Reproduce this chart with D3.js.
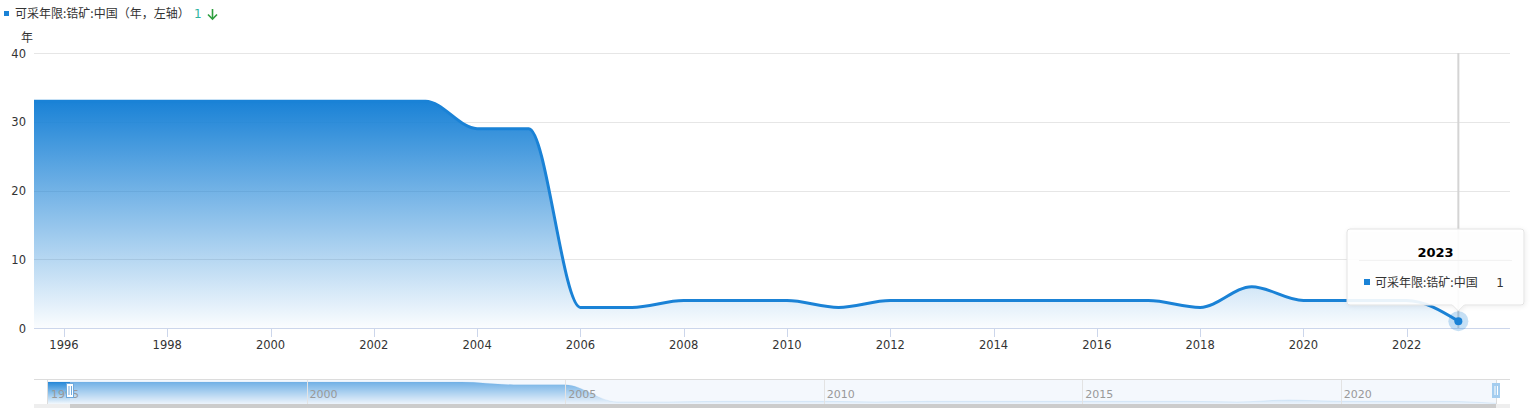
<!DOCTYPE html>
<html><head><meta charset="utf-8">
<script src="https://cdn.jsdelivr.net/npm/d3@7/dist/d3.min.js"></script>
<style>
html,body{margin:0;padding:0;background:#fff;}
svg{display:block;}
text{font-family:"DejaVu Sans","Noto Sans CJK SC",sans-serif;}
.cjk{font-family:"Noto Sans CJK SC","DejaVu Sans",sans-serif;}
</style></head>
<body>
<svg id="c" width="1530" height="408"></svg>
<script>
const years = [1995,1996,1997,1998,1999,2000,2001,2002,2003,2004,2005,2006,2007,2008,2009,2010,2011,2012,2013,2014,2015,2016,2017,2018,2019,2020,2021,2022,2023];
const values = [33,33,33,33,33,33,33,33,33,29,29,3,3,4,4,4,3,4,4,4,4,4,4,3,6,4,4,4,1];
const yTicks = [0,10,20,30,40];
const xTicks = [1996,1998,2000,2002,2004,2006,2008,2010,2012,2014,2016,2018,2020,2022];
const navTicks = [1995,2000,2005,2010,2015,2020];
const seriesName = "可采年限:锆矿:中国";
const legendLabel = "可采年限:锆矿:中国（年，左轴）";
const latestValue = "1";
const yUnit = "年";
const tipYear = 2023;

const data = years.map((y,i)=>({x:y,v:values[i]}));
const color = "#1a82d6";
const svg = d3.select("#c");
const defs = svg.append("defs");

const L=34, R=1510, T=53, B=328;
const x = d3.scaleLinear().domain([1995.42, 2024]).range([L,R]);
const y = d3.scaleLinear().domain([0,40]).range([B,T]);

const g1 = defs.append("linearGradient").attr("id","ag").attr("x1",0).attr("y1",0).attr("x2",0).attr("y2",1);
g1.append("stop").attr("offset",0).attr("stop-color",color).attr("stop-opacity",1);
g1.append("stop").attr("offset",1).attr("stop-color",color).attr("stop-opacity",0.02);
defs.append("clipPath").attr("id","clip").append("rect").attr("x",L).attr("y",0).attr("width",R-L).attr("height",B+5);

// gridlines
svg.append("g").selectAll("line").data(yTicks.filter(d=>d>0)).join("line")
  .attr("x1",L).attr("x2",R).attr("y1",d=>Math.round(y(d))+0.5).attr("y2",d=>Math.round(y(d))+0.5)
  .attr("stroke","#e6e6e6");
// y labels
svg.append("g").selectAll("text").data(yTicks).join("text")
  .attr("x",26).attr("y",d=>y(d)+4.5).attr("text-anchor","end")
  .attr("font-size","11.5px").attr("fill","#333").text(d=>d);
svg.append("text").attr("class","cjk").attr("x",27).attr("y",42).attr("text-anchor","middle")
  .attr("font-size","12px").attr("fill","#333").text(yUnit);

const curve = d3.curveMonotoneX;
const area = d3.area().x(d=>x(d.x)).y0(B).y1(d=>y(d.v)).curve(curve);
const line = d3.line().x(d=>x(d.x)).y(d=>y(d.v)).curve(curve);
const pg = svg.append("g").attr("clip-path","url(#clip)");
pg.append("path").datum(data).attr("d",area).attr("fill","url(#ag)");
pg.append("path").datum(data).attr("d",line).attr("fill","none").attr("stroke",color).attr("stroke-width",3).attr("stroke-linejoin","round");

// x axis
svg.append("line").attr("x1",L).attr("x2",R).attr("y1",B+0.5).attr("y2",B+0.5).attr("stroke","#ccd6eb");
const xa = svg.append("g");
xa.selectAll("line").data(xTicks).join("line")
  .attr("x1",d=>Math.round(x(d))+0.5).attr("x2",d=>Math.round(x(d))+0.5).attr("y1",B).attr("y2",B+9).attr("stroke","#ccd6eb");
xa.selectAll("text").data(xTicks).join("text")
  .attr("x",d=>x(d)).attr("y",B+21).attr("text-anchor","middle")
  .attr("font-size","11.5px").attr("fill","#333").text(d=>d);

// crosshair
const tp = data.find(d=>d.x===tipYear);
svg.append("line").attr("x1",x(tipYear)).attr("x2",x(tipYear)).attr("y1",T).attr("y2",B)
  .attr("stroke","#d4d4d4").attr("stroke-width",2);
svg.append("circle").attr("cx",x(tp.x)).attr("cy",y(tp.v)).attr("r",10).attr("fill",color).attr("fill-opacity",0.25);
svg.append("circle").attr("cx",x(tp.x)).attr("cy",y(tp.v)).attr("r",4).attr("fill",color);

// tooltip
const tx0=1347, tx1=1524, ty0=229, ty1=305, px=x(tipYear);
const tipPath = `M${tx0+3},${ty0} L${tx1-3},${ty0} Q${tx1},${ty0} ${tx1},${ty0+3} L${tx1},${ty1-3} Q${tx1},${ty1} ${tx1-3},${ty1} L${px+6},${ty1} L${px},${ty1+6} L${px-6},${ty1} L${tx0+3},${ty1} Q${tx0},${ty1} ${tx0},${ty1-3} L${tx0},${ty0+3} Q${tx0},${ty0} ${tx0+3},${ty0} Z`;
defs.append("filter").attr("id","sh").attr("x","-10%").attr("y","-10%").attr("width","120%").attr("height","130%")
  .append("feDropShadow").attr("dx",1).attr("dy",1).attr("stdDeviation",2).attr("flood-color","#000").attr("flood-opacity",0.08);
svg.append("path").attr("d",tipPath).attr("fill","rgba(255,255,255,0.9)").attr("stroke","#e3e3e3").attr("filter","url(#sh)");
svg.append("text").attr("x",(tx0+tx1)/2).attr("y",257).attr("text-anchor","middle")
  .attr("font-size","13px").attr("font-weight","bold").attr("fill","#000").text(tipYear);
svg.append("line").attr("x1",tx0+12).attr("x2",tx1-12).attr("y1",260.5).attr("y2",260.5).attr("stroke","#f2f2f2");
svg.append("rect").attr("x",1364).attr("y",279).attr("width",6).attr("height",6).attr("fill",color);
svg.append("text").attr("class","cjk").attr("x",1375).attr("y",287).attr("font-size","12px").attr("fill","#333").text(seriesName);
svg.append("text").attr("x",1504).attr("y",287).attr("text-anchor","end").attr("font-size","12px").attr("fill","#333").text(tp.v);

// legend
svg.append("rect").attr("x",4).attr("y",11).attr("width",5).attr("height",5).attr("fill",color);
svg.append("text").attr("class","cjk").attr("x",15).attr("y",18).attr("font-size","12px").attr("fill","#333").text(legendLabel);
svg.append("text").attr("x",194).attr("y",18).attr("font-size","12px").attr("fill","#2fb3a0").text(latestValue);
// arrow
const ag = svg.append("g").attr("stroke","#2e9e3e").attr("stroke-width",1.6).attr("fill","none");
ag.append("line").attr("x1",212.5).attr("x2",212.5).attr("y1",9).attr("y2",19);
ag.append("path").attr("d","M208,14.5 L212.5,19 L217,14.5");

// navigator
const NL=48, NR=1496, NT=380, NB=404;
const nx = d3.scaleLinear().domain([1995,2023]).range([NL,NR]);
const ny = d3.scaleLinear().domain([0,33]).range([NB,NT+2]);
svg.append("rect").attr("x",NL).attr("y",NT).attr("width",NR-NL).attr("height",NB-NT).attr("fill","#fff");
const g2 = defs.append("linearGradient").attr("id","ng").attr("x1",0).attr("y1",0).attr("x2",0).attr("y2",1);
g2.append("stop").attr("offset",0).attr("stop-color",color).attr("stop-opacity",0.95);
g2.append("stop").attr("offset",1).attr("stop-color",color).attr("stop-opacity",0.05);
const narea = d3.area().x(d=>nx(d.x)).y0(NB).y1(d=>ny(d.v)).curve(curve);
svg.append("path").datum(data).attr("d",narea).attr("fill","url(#ng)");
svg.append("path").datum(data).attr("d",d3.line().x(d=>nx(d.x)).y(d=>ny(d.v)).curve(curve))
  .attr("fill","none").attr("stroke",color).attr("stroke-opacity",0.15).attr("stroke-width",1);
// mask over selected
svg.append("rect").attr("x",70).attr("y",NT).attr("width",NR-70).attr("height",NB-NT).attr("fill","#e3edf9").attr("fill-opacity",0.4);
const ng = svg.append("g");
ng.selectAll("line").data(navTicks.filter(d=>d>1995)).join("line")
  .attr("x1",d=>Math.round(nx(d))+0.5).attr("x2",d=>Math.round(nx(d))+0.5).attr("y1",NT).attr("y2",NB).attr("stroke","#e3e3e3");
ng.selectAll("text").data(navTicks).join("text")
  .attr("x",d=>nx(d)+3).attr("y",NB-6).attr("font-size","11px").attr("fill","#999").text(d=>d);
// outline
svg.append("line").attr("x1",L).attr("x2",R).attr("y1",379.5).attr("y2",379.5).attr("stroke","#dcdcdc");
svg.append("line").attr("x1",NL-0.5).attr("x2",NL-0.5).attr("y1",379.5).attr("y2",NB).attr("stroke","#dcdcdc");
svg.append("line").attr("x1",NR+0.5).attr("x2",NR+0.5).attr("y1",379.5).attr("y2",NB).attr("stroke","#dcdcdc");
// scrollbar
svg.append("rect").attr("x",L).attr("y",NB).attr("width",R-L).attr("height",4).attr("fill","#eeeeee");
svg.append("rect").attr("x",70).attr("y",NB).attr("width",NR-70).attr("height",4).attr("fill","#cccccc");
// handles
function handle(cx, filled){
  const h = svg.append("g");
  h.append("rect").attr("x",cx-3.5).attr("y",383.5).attr("width",7).attr("height",14)
    .attr("fill",filled?"#a4cdef":"#fff").attr("stroke",filled?"#a4cdef":"#6fa9dd");
  h.append("line").attr("x1",cx-1).attr("x2",cx-1).attr("y1",386).attr("y2",395).attr("stroke",filled?"#fff":"#6fa9dd");
  h.append("line").attr("x1",cx+1.5).attr("x2",cx+1.5).attr("y1",386).attr("y2",395).attr("stroke",filled?"#fff":"#6fa9dd");
}
handle(70,false);
handle(1496,true);
</script>
</body></html>
